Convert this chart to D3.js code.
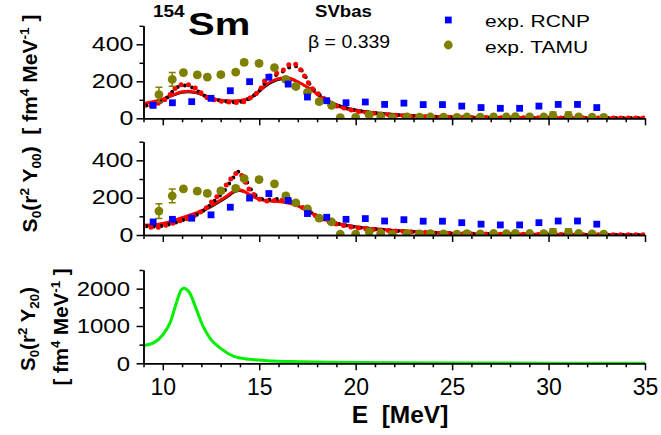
<!DOCTYPE html>
<html><head><meta charset="utf-8">
<script src="https://cdn.jsdelivr.net/npm/d3@7"></script>
<style>
body{margin:0;background:#fff}
svg{display:block;font-family:Arial,"Liberation Sans",sans-serif}
text{white-space:pre}
</style></head><body><svg id="c" width="661" height="435"></svg>
<script>
// experimental points
const rcnpE=[9.5,10.5,11.5,12.5,13.5,14.5,15.5,16.5,17.5,18.5,19.5,20.5,21.5,22.5,23.5,24.5,25.5,26.5,27.5,28.5,29.5,30.5,31.5,32.5];
const rcnpS=[70,84,90,108,149,198,222,185,115,95,84,88,75,82,74,74,66,58,54,54,66,75,75,58];
const tamuE=[9.8,10.49,11.07,11.79,12.31,13.01,13.78,14.22,14.99,15.79,16.38,16.9,17.5,18.11,18.75,19.2,20.0,20.7,21.3,21.9,22.66,23.31,23.87,24.56,25.25,25.77,26.46,27.15,27.81,28.28,29.02,29.75,30.23,31.03,31.56,32.26,32.86];
const tamuS=[128,210,247,235,223,236,250,302,297,274,210,172,140,90,70,4,5,18,10,3,8,6,7,6,5,7,6,8,7,9,8,7,14,14,8,6,5];
const tamuErr=[40,37,12,12,12,12,12,12,12,12,12,12,12,12,12,10,8,8,8,8,8,8,8,8,8,8,8,8,8,8,8,8,20,20,8,8,8];

// top panel curves [E, S]
const topRed=[[9,80],[9.5,90],[10,104],[10.5,125],[11,143],[11.3,146],[11.7,140],[12.2,122],[12.6,106],[13.1,96],[13.6,94],[14.1,98],[14.5,110],[14.9,140],[15.3,178],[15.7,203],[16.1,216],[16.5,218],[16.9,203],[17.3,180],[17.7,155],[18.1,122],[18.6,88],[19.1,64],[19.6,48],[20.2,36],[21,27],[22,18],[23,12],[25,7],[28,4],[31,2],[35,1]];
const topBlack=[[9,78],[9.5,88],[10,101],[10.5,121],[11,138],[11.3,141],[11.7,136],[12.2,119],[12.6,104],[13.1,95],[13.6,93],[14.1,96],[14.5,106],[14.9,133],[15.3,170],[15.7,196],[16.1,210],[16.5,212],[16.9,200],[17.3,180],[17.7,157],[18.1,126],[18.6,94],[19.1,72],[19.6,56],[20.2,44],[21,33],[22,23],[23,16],[25,9],[28,5],[31,3],[35,1]];
const topRedDot=[[9,66],[9.3,68],[9.6,76],[10,93],[10.4,130],[10.75,172],[11.1,184],[11.5,175],[11.85,150],[12.2,118],[12.55,103],[12.9,95],[13.3,89],[13.65,86],[14,85],[14.35,98],[14.7,122],[15.05,157],[15.4,220],[15.8,238],[16.35,268],[16.65,297],[17,286],[17.2,252],[17.45,212],[17.65,174],[17.9,148],[18.2,120],[18.5,95],[18.9,72],[19.4,55],[20,40],[21,26],[22,17],[23,11],[25,6],[28,3],[31,2],[35,1]];
const topBlackDot=[[9,68],[9.4,72],[9.8,84],[10.2,110],[10.6,155],[11,178],[11.4,172],[11.8,148],[12.2,120],[12.6,104],[13,96],[13.4,90],[13.8,87],[14.2,92],[14.6,115],[15,150],[15.4,205],[15.9,236],[16.4,262],[16.75,285],[17.1,270],[17.4,225],[17.7,170],[18,140],[18.4,104],[18.9,76],[19.4,58],[20,43],[21,28],[22,18],[23,12],[25,6],[28,3],[31,2],[35,1]];

// middle panel curves
const midRed=[[9,52],[9.5,55],[10,62],[10.5,75],[11,93],[11.5,110],[12,130],[12.5,157],[13,188],[13.4,215],[13.7,236],[13.9,242],[14.15,237],[14.45,220],[14.8,200],[15.2,188],[15.7,182],[16.3,176],[16.9,160],[17.4,135],[17.9,106],[18.4,82],[18.9,64],[19.6,50],[20.5,37],[21.5,28],[23,18],[25,10],[28,5],[31,3],[35,1]];
const midBlack=[[9,50],[9.5,53],[10,59],[10.5,71],[11,87],[11.5,104],[12,124],[12.5,150],[13,180],[13.4,207],[13.7,228],[13.95,236],[14.2,232],[14.5,215],[14.85,197],[15.2,186],[15.7,181],[16.3,175],[16.9,161],[17.4,138],[17.9,110],[18.4,86],[18.9,68],[19.6,54],[20.5,40],[21.5,30],[23,20],[25,11],[28,5],[31,3],[35,1]];
const midRedDot=[[9,47],[9.35,41],[9.7,41],[10.05,50],[10.4,59],[10.75,73],[11.1,82],[11.5,96],[11.85,117],[12.2,140],[12.55,180],[12.9,215],[13.25,262],[13.6,310],[13.9,335],[14.15,310],[14.4,258],[14.7,219],[15.05,190],[15.4,182],[15.8,185],[16.25,186],[16.6,180],[17,165],[17.4,137],[17.9,105],[18.4,80],[18.9,62],[19.5,48],[20.5,34],[21.5,25],[23,16],[25,8],[28,4],[31,2],[35,1]];
const midBlackDot=[[9,49],[9.4,45],[9.8,46],[10.2,54],[10.6,65],[11,78],[11.5,95],[12,123],[12.5,165],[12.9,205],[13.25,245],[13.6,300],[13.95,340],[14.3,295],[14.6,240],[14.9,205],[15.3,190],[15.8,192],[16.25,197],[16.9,165],[17.4,140],[17.9,108],[18.4,83],[18.9,65],[19.5,50],[20.5,36],[21.5,27],[23,17],[25,9],[28,4],[31,2],[35,1]];

// bottom panel
const green=[[9,475],[9.5,540],[10,760],[10.4,1115],[10.7,1610],[10.95,1960],[11.08,2010],[11.4,1880],[11.75,1430],[12.1,980],[12.45,670],[13,400],[13.65,195],[14.5,107],[15.4,70],[17.1,43],[18.7,27],[22,12],[26,6],[30,4],[35,3]];

const svg=d3.select('#c');
const x=d3.scaleLinear().domain([9,35]).range([143.5,645]);
const yTop=d3.scaleLinear().domain([0,500]).range([118.3,25.8]);
const yMid=d3.scaleLinear().domain([0,500]).range([235,141.7]);
const yBot=d3.scaleLinear().domain([0,2500]).range([363.3,270]);

function txt(px,py,k,size,bold,parts,anchor,rot){
 const g=svg.append('g').attr('transform',`translate(${px},${py}) scale(1,${k})`+(rot?' rotate(-90)':''));
 const t=g.append('text').attr('font-size',size).attr('font-weight',bold?'bold':'normal').attr('text-anchor',anchor||'start');
 let shift=0;
 parts.forEach(p=>{
  const s=typeof p==='string'?{t:p,d:0}:p;
  const dy=s.d-shift;shift=s.d;
  t.append('tspan').attr('dy',dy).attr('font-size',s.d?size*0.65:size).text(s.t);
 });
 return t;
}

function axes(y,major,minor,labels,font,k,pad){
 const base=y.range()[0];
 svg.append('g').attr('transform',`translate(0,${base})`)
  .call(d3.axisBottom(x).tickValues(d3.range(9,36).filter(v=>v%5)).tickSize(4).tickSizeOuter(0).tickFormat(''));
 const gx=svg.append('g').attr('transform',`translate(0,${base})`)
  .call(d3.axisBottom(x).tickValues([10,15,20,25,30,35]).tickSize(7).tickSizeOuter(0).tickPadding(8).tickFormat(labels?d3.format('d'):''));
 gx.selectAll('text').attr('font-size',23).attr('fill','#000');
 svg.append('g').attr('transform','translate(143.5,0)')
  .call(d3.axisLeft(y).tickValues(minor).tickSize(4).tickSizeOuter(0).tickFormat(''));
 const gy=svg.append('g').attr('transform','translate(143.5,0)')
  .call(d3.axisLeft(y).tickValues(major).tickSize(7).tickSizeOuter(0).tickPadding(pad).tickFormat(d3.format('d')));
 gy.selectAll('text').attr('font-size',font).attr('fill','#000').attr('transform',`scale(1,${k})`);
 svg.selectAll('.domain,.tick line').attr('stroke','#000').attr('stroke-width',1.5);
}

function clip(id,y){
 svg.append('clipPath').attr('id',id).append('rect')
  .attr('x',x(9)).attr('y',y.range()[1]).attr('width',x(35)-x(9)).attr('height',y.range()[0]-y.range()[1]);
 return svg.append('g').attr('clip-path',`url(#${id})`);
}

function curves(g,y,red,black,redDot,blackDot){
 const line=d3.line().x(d=>x(d[0])).y(d=>y(d[1])).curve(d3.curveMonotoneX);
 g.append('path').attr('d',line(black)).attr('fill','none').attr('stroke','#000').attr('stroke-width',2);
 g.append('path').attr('d',line(red)).attr('fill','none').attr('stroke','#ff0000').attr('stroke-width',3);
 g.append('path').attr('d',line(blackDot)).attr('fill','none').attr('stroke','#000').attr('stroke-width',4)
  .attr('stroke-linecap','round').attr('stroke-dasharray','0 7.5').attr('stroke-dashoffset',-3);
 g.append('path').attr('d',line(redDot)).attr('fill','none').attr('stroke','#ff0000').attr('stroke-width',5)
  .attr('stroke-linecap','round').attr('stroke-dasharray','0 7.5');
}

function points(g,y){
 tamuE.forEach((e,i)=>{
  const cx=x(e),lo=y(tamuS[i]-tamuErr[i]),hi=y(tamuS[i]+tamuErr[i]);
  g.append('line').attr('x1',cx).attr('x2',cx).attr('y1',lo).attr('y2',hi).attr('stroke','#808000').attr('stroke-width',1.5);
  [lo,hi].forEach(v=>g.append('line').attr('x1',cx-3.5).attr('x2',cx+3.5).attr('y1',v).attr('y2',v).attr('stroke','#808000').attr('stroke-width',1.5));
 });
 g.selectAll(null).data(tamuE).enter().append('circle')
  .attr('cx',d=>x(d)).attr('cy',(d,i)=>y(tamuS[i])).attr('r',4.4).attr('fill','#808000');
 g.selectAll(null).data(rcnpE).enter().append('rect')
  .attr('x',d=>x(d)-3.4).attr('y',(d,i)=>y(rcnpS[i])-3.4).attr('width',6.8).attr('height',6.8).attr('fill','#0000ff');
}

// top
const g1=clip('c1',yTop);
curves(g1,yTop,topRed,topBlack,topRedDot,topBlackDot);
points(g1,yTop);
axes(yTop,[0,200,400],[100,300,500],false,25,0.78,3);

// middle
const g2=clip('c2',yMid);
curves(g2,yMid,midRed,midBlack,midRedDot,midBlackDot);
points(g2,yMid);
axes(yMid,[0,200,400],[100,300,500],false,25,0.78,3);

// bottom
const g3=clip('c3',yBot);
g3.append('path').attr('d',d3.line().x(d=>x(d[0])).y(d=>yBot(d[1])).curve(d3.curveMonotoneX)(green))
 .attr('fill','none').attr('stroke','#00ee00').attr('stroke-width',3);
axes(yBot,[0,1000,2000],[500,1500,2500],true,24,0.88,6.5);

// texts
txt(153,16.7,0.86,19,true,['154']);
txt(188,35,0.8,40,true,['Sm']);
txt(315,16.7,0.875,18.6,true,['SVbas']);
txt(308,48,0.95,19.5,false,['β = 0.339']);
svg.append('rect').attr('x',448.3-3.4).attr('y',20-3.4).attr('width',6.8).attr('height',6.8).attr('fill','#0000ff');
svg.append('circle').attr('cx',448.3).attr('cy',45).attr('r',4.4).attr('fill','#808000');
txt(485,26.7,0.78,21,false,['exp. RCNP']);
txt(485,53.3,0.78,21,false,['exp. TAMU']);
txt(351.7,423.3,1,24.5,true,['E  [MeV]']);

const sub=t=>({t,d:4}),sup=t=>({t,d:-8});
txt(36.5,123.5,1,21,true,['S',sub('0'),'(r',sup('2'),' Y',sub('00'),')  [ fm',sup('4'),' MeV',sup('-1'),' ]'],'middle',true);
txt(35,329,1,20.5,true,['S',sub('0'),'(r',sup('2'),' Y',sub('20'),')'],'middle',true);
txt(68,327,1,20.5,true,['[ fm',sup('4'),' MeV',sup('-1'),' ]'],'middle',true);
</script></body></html>
